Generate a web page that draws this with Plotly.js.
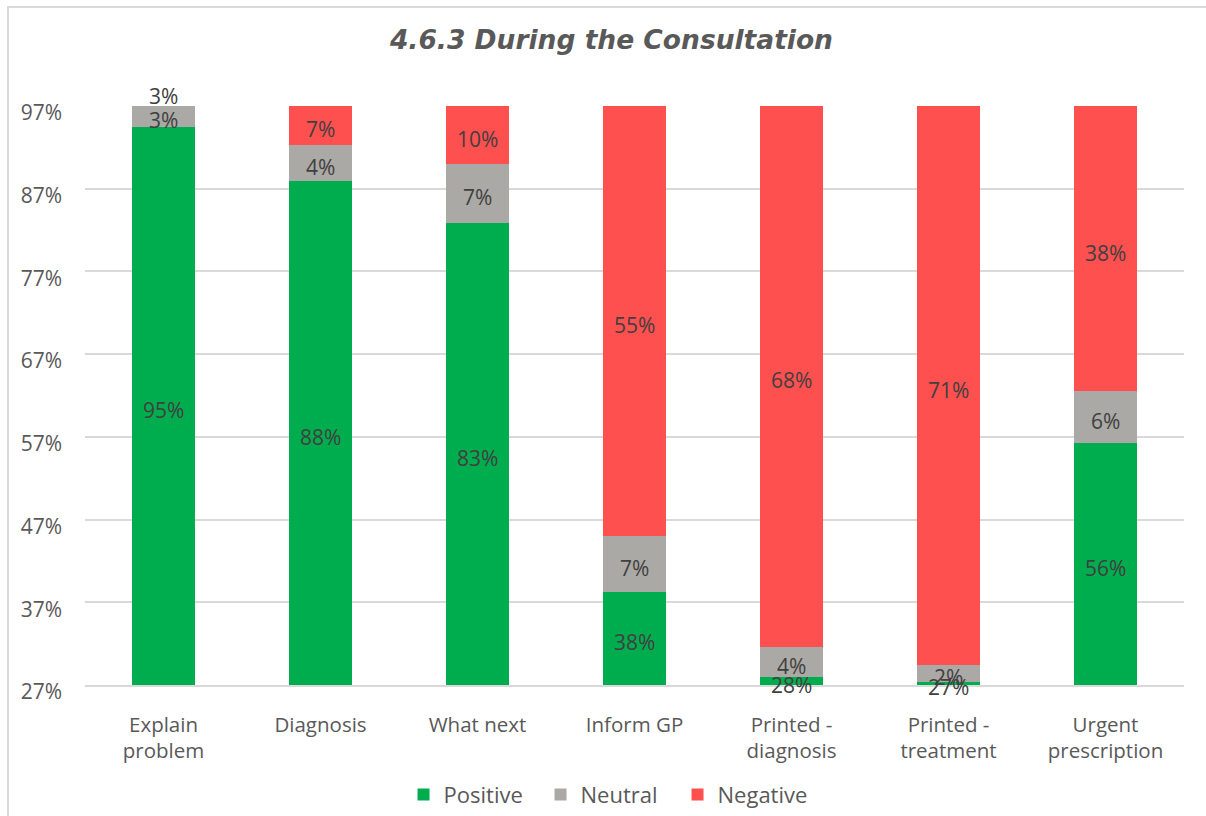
<!DOCTYPE html>
<html>
<head>
<meta charset="utf-8">
<script src="https://cdn.plot.ly/plotly-3.0.1.min.js"></script>
<style>
  html, body { margin: 0; padding: 0; background: #fff; overflow: hidden; }
  #frame { position: absolute; left: 7px; top: 6px; width: 1400px; height: 1000px; border: 2px solid #d9d9d9; }
  #chart { position: absolute; left: 0; top: 0; width: 1206px; height: 816px; }
</style>
</head>
<body>
<div id="frame"></div>
<div id="chart"></div>
<script>
const categories = ['Explain<br>problem', 'Diagnosis', 'What next', 'Inform GP', 'Printed -<br>diagnosis', 'Printed -<br>treatment', 'Urgent<br>prescription'];
const positive = [94.5, 87.9, 82.9, 38.3, 28.0, 27.4, 56.2];
const neutral  = [3.0, 4.4, 7.1, 6.7, 3.6, 2.0, 6.3];
const negative = [3.0, 7.0, 10.0, 55.0, 68.0, 71.0, 38.0];
const seriesNames = ['Positive', 'Neutral', 'Negative'];
const seriesColors = ['#00AD4E', '#ABA9A6', '#FF5050'];
const yMin = 27, yMax = 97;
const yTicks = [27, 37, 47, 57, 67, 77, 87, 97];

const series = [positive, neutral, negative];
const traces = [];
series.forEach((vals, s) => {
  traces.push({
    type: 'bar', x: categories, y: vals, name: seriesNames[s],
    marker: { color: seriesColors[s], line: { width: 0 } },
    width: 0.4, hoverinfo: 'skip'
  });
});
// data labels: centre of visible part of each stacked segment
const annotations = [];
series.forEach((vals, s) => {
  vals.forEach((v, i) => {
    let base = 0;
    for (let k = 0; k < s; k++) base += series[k][i];
    const lo = Math.max(base, yMin), hi = Math.min(base + v, yMax);
    let y, anchor, shift;
    if (hi <= lo) {
      y = base >= yMax ? yMax : yMin;
      anchor = base >= yMax ? 'bottom' : 'top';
      shift = base >= yMax ? -6 : 0;
    } else {
      y = (lo + hi) / 2; anchor = 'middle'; shift = -4;
    }
    annotations.push({
      x: categories[i], y: y, xref: 'x', yref: 'y', text: Math.round(v) + '%',
      showarrow: false, yanchor: anchor, yshift: shift,
      font: { family: 'Open Sans, sans-serif', size: 21, color: '#404040' }
    });
  });
});

const layout = {
  width: 1206, height: 816,
  paper_bgcolor: 'rgba(0,0,0,0)', plot_bgcolor: 'rgba(0,0,0,0)',
  margin: { l: 85, r: 22, t: 106, b: 131, autoexpand: false },
  barmode: 'stack',
  bargap: 0.6,
  font: { family: 'Open Sans, sans-serif', color: '#595959' },
  title: {
    text: '4.6.3 During the Consultation',
    font: { family: 'DejaVu Sans, sans-serif', size: 26.5, color: '#595959', weight: 'bold', style: 'italic' },
    x: 0.507, xanchor: 'center', y: 0.951, yanchor: 'middle', xref: 'container', yref: 'container'
  },
  xaxis: {
    type: 'category', showgrid: false, showline: true, linecolor: '#d9d9d9', linewidth: 2,
    ticks: '', tickfont: { size: 20.5, color: '#595959' }, ticklabelstandoff: 20, fixedrange: true
  },
  yaxis: {
    range: [yMin, yMax], tickvals: yTicks, ticktext: yTicks.map(v => v + '%'),
    showgrid: true, gridcolor: '#d9d9d9', gridwidth: 2, zeroline: false, showline: false,
    ticks: '', tickfont: { size: 21, color: '#595959' }, ticklabelstandoff: 22,
    ticklabelshift: 7, fixedrange: true
  },
  legend: {
    orientation: 'h', x: 0.505, xanchor: 'center', xref: 'container',
    y: 0.026, yanchor: 'middle', yref: 'container',
    font: { size: 22, color: '#595959' }, entrywidth: 92, traceorder: 'normal'
  },
  annotations: annotations,
  showlegend: true
};

Plotly.newPlot('chart', traces, layout, { displayModeBar: false, staticPlot: true });
</script>
</body>
</html>
